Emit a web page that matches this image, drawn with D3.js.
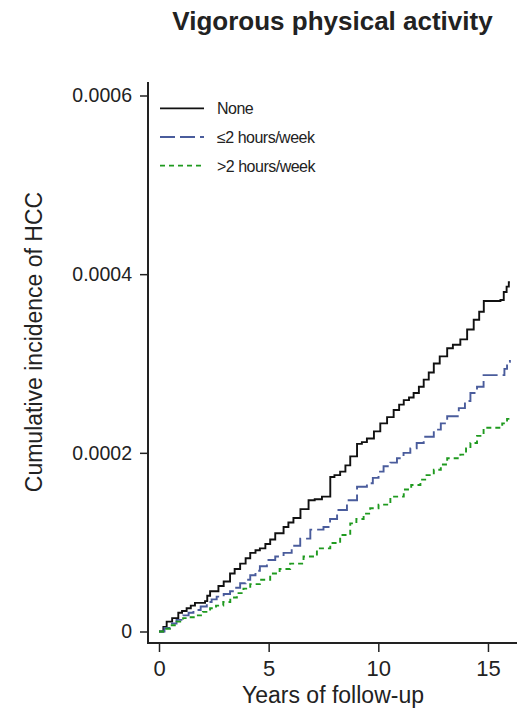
<!DOCTYPE html>
<html>
<head>
<meta charset="utf-8">
<title>Vigorous physical activity</title>
<script src="https://cdn.jsdelivr.net/npm/d3@7/dist/d3.min.js"></script>
<style>
body { margin: 0; background: #fff; }
svg text { font-family: "Liberation Sans", Arial, sans-serif; fill: #222; }
.axis path { display: none; }
.axis line { stroke: #222; stroke-width: 1.5; }
</style>
</head>
<body>
<svg id="chart"></svg>
<script>
// follow-up times (years) and cumulative incidence (x 1e-4)
var noneT = [0, 0.2, 0.35, 0.6, 0.88, 1.05, 1.26, 1.45, 1.64, 2.1, 2.2, 2.33, 2.71, 2.95, 3.24, 3.45, 3.7, 3.95, 4.16, 4.4, 4.6, 4.85, 5.07, 5.3, 5.68, 5.9, 6.13, 6.45, 6.82, 7.1, 7.43, 7.81, 8.0, 8.26, 8.5, 8.72, 9.03, 9.25, 9.48, 9.8, 10.09, 10.4, 10.7, 10.95, 11.16, 11.4, 11.61, 11.85, 12.07, 12.3, 12.53, 12.8, 13.14, 13.4, 13.74, 14.05, 14.35, 14.6, 14.81, 15.57, 15.72, 15.85, 15.95, 16.0];
var noneV = [0, 0.05, 0.11, 0.15, 0.21, 0.23, 0.26, 0.29, 0.32, 0.34, 0.40, 0.45, 0.51, 0.56, 0.65, 0.70, 0.76, 0.82, 0.88, 0.91, 0.93, 0.98, 1.03, 1.10, 1.17, 1.22, 1.27, 1.37, 1.47, 1.48, 1.51, 1.73, 1.75, 1.79, 1.86, 1.96, 2.10, 2.12, 2.16, 2.24, 2.33, 2.40, 2.48, 2.54, 2.59, 2.62, 2.67, 2.74, 2.82, 2.90, 3.00, 3.08, 3.17, 3.21, 3.27, 3.38, 3.49, 3.58, 3.70, 3.71, 3.80, 3.86, 3.91, 3.91];

var lowT = [0, 0.25, 0.5, 0.8, 1.1, 1.35, 1.57, 1.9, 2.18, 2.4, 2.63, 2.95, 3.24, 3.45, 3.7, 3.95, 4.16, 4.4, 4.6, 4.92, 5.3, 5.68, 6.05, 6.44, 6.9, 7.5, 7.8, 8.12, 8.57, 9.03, 9.48, 9.75, 10.01, 10.24, 10.55, 10.85, 11.15, 11.46, 11.75, 12.07, 12.53, 12.85, 13.14, 13.67, 13.95, 14.2, 14.5, 14.8, 15.57, 15.75, 15.87, 16.0];
var lowV = [0, 0.04, 0.09, 0.13, 0.18, 0.21, 0.24, 0.28, 0.33, 0.36, 0.39, 0.42, 0.45, 0.49, 0.54, 0.58, 0.63, 0.68, 0.73, 0.80, 0.84, 0.88, 0.96, 1.04, 1.14, 1.17, 1.26, 1.36, 1.47, 1.62, 1.66, 1.72, 1.79, 1.85, 1.89, 1.94, 2.00, 2.05, 2.11, 2.18, 2.26, 2.33, 2.41, 2.50, 2.58, 2.67, 2.74, 2.87, 2.87, 2.94, 3.02, 3.04];

var highT = [0, 0.25, 0.5, 0.8, 1.1, 1.4, 1.72, 2.0, 2.33, 2.6, 2.93, 3.25, 3.55, 3.85, 4.16, 4.6, 5.07, 5.5, 5.98, 6.59, 7.2, 7.81, 8.26, 8.72, 9.0, 9.33, 9.63, 10.01, 10.55, 11.16, 11.5, 11.92, 12.2, 12.53, 12.85, 13.14, 13.74, 14.0, 14.2, 14.5, 14.8, 15.4, 15.65, 15.87, 16.0];
var highV = [0, 0.03, 0.07, 0.11, 0.15, 0.16, 0.18, 0.22, 0.26, 0.29, 0.33, 0.38, 0.43, 0.48, 0.53, 0.58, 0.65, 0.70, 0.76, 0.84, 0.93, 0.99, 1.08, 1.21, 1.26, 1.32, 1.38, 1.42, 1.51, 1.59, 1.64, 1.70, 1.75, 1.81, 1.87, 1.94, 1.98, 2.05, 2.11, 2.19, 2.28, 2.28, 2.33, 2.38, 2.40];

var seriesNames = ["None", "\u22642 hours/week", ">2 hours/week"];
var xTicks = [0, 5, 10, 15];
var yTicks = [0, 0.0002, 0.0004, 0.0006];

var W = 517, H = 709;
var svg = d3.select("#chart").attr("width", W).attr("height", H);

var x = d3.scaleLinear().domain([0, 16]).range([159, 509.9]);
var y = d3.scaleLinear().domain([0, 0.0006]).range([631.5, 95.5]);

function pts(ts, vs) { return ts.map(function(t, i) { return [t, vs[i] * 1e-4]; }); }

var series = [
	{name: seriesNames[0], data: pts(noneT, noneV), color: "#111", dash: null},
	{name: seriesNames[1], data: pts(lowT, lowV), color: "#4a5c9c", dash: "15,5"},
	{name: seriesNames[2], data: pts(highT, highV), color: "#1f9a1f", dash: "5,4"}
];

// title
svg.append("text")
	.attr("x", 332.5).attr("y", 30)
	.attr("text-anchor", "middle")
	.style("font-size", "26px").style("font-weight", "bold")
	.text("Vigorous physical activity");

// axes
svg.append("g").attr("class", "axis")
	.attr("transform", "translate(148,0)")
	.call(d3.axisLeft(y).tickValues(yTicks).tickSize(8).tickPadding(8)
		.tickFormat(function(d) { return d === 0 ? "0" : d.toFixed(4); }))
	.selectAll("text").style("font-size", "19.5px");

svg.append("g").attr("class", "axis")
	.attr("transform", "translate(0,643)")
	.call(d3.axisBottom(x).tickValues(xTicks).tickSize(9).tickPadding(8))
	.selectAll("text").style("font-size", "22px");

// spines
svg.append("line").attr("x1", 148).attr("x2", 148).attr("y1", 82).attr("y2", 644)
	.attr("stroke", "#222").attr("stroke-width", 2);
svg.append("line").attr("x1", 147).attr("x2", 517).attr("y1", 643).attr("y2", 643)
	.attr("stroke", "#222").attr("stroke-width", 2);

// axis titles
svg.append("text")
	.attr("x", 333).attr("y", 703)
	.attr("text-anchor", "middle")
	.style("font-size", "23px")
	.text("Years of follow-up");

svg.append("text")
	.attr("transform", "translate(42,342) rotate(-90)")
	.attr("text-anchor", "middle")
	.style("font-size", "23px")
	.text("Cumulative incidence of HCC");

// curves
var line = d3.line()
	.x(function(d) { return x(d[0]); })
	.y(function(d) { return y(d[1]); })
	.curve(d3.curveStepAfter);

svg.selectAll(".curve")
	.data(series)
	.enter().append("path")
	.attr("class", "curve")
	.attr("d", function(d) { return line(d.data); })
	.attr("fill", "none")
	.attr("stroke", function(d) { return d.color; })
	.attr("stroke-width", 1.9)
	.attr("stroke-dasharray", function(d) { return d.dash; });

// legend
var legend = svg.selectAll(".legend")
	.data(series)
	.enter().append("g")
	.attr("class", "legend")
	.attr("transform", function(d, i) { return "translate(160," + (108.3 + i * 28.7) + ")"; });

legend.append("line")
	.attr("x1", 0).attr("x2", 44)
	.attr("stroke", function(d) { return d.color; })
	.attr("stroke-width", 1.8)
	.attr("stroke-dasharray", function(d) { return d.dash; });

legend.append("text")
	.attr("x", 57).attr("y", 6)
	.style("font-size", "16px")
	.style("letter-spacing", "-0.5px")
	.text(function(d) { return d.name; });
</script>
</body>
</html>
